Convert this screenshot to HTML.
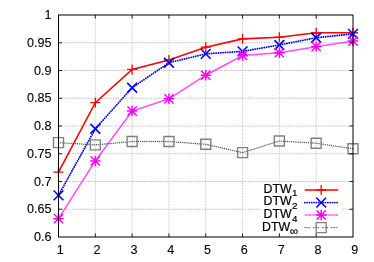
<!DOCTYPE html><html><head><meta charset="utf-8"><style>html,body{margin:0;padding:0;background:#fff}svg text{font-family:"Liberation Sans",sans-serif;fill:#000;stroke:#000;stroke-width:0.1px}</style></head><body><svg width="374" height="262" viewBox="0 0 374 262" style="display:block;will-change:transform">
<path d="M95.31,15.0V237.0M132.12,15.0V237.0M168.94,15.0V237.0M205.75,15.0V237.0M242.56,15.0V237.0M279.38,15.0V237.0M316.19,15.0V237.0" stroke="#c2c2c2" stroke-width="0.8" stroke-dasharray="1.7,1.0" fill="none"/>
<path d="M58.5,209.25H353.0M58.5,181.50H353.0M58.5,153.75H353.0M58.5,126.00H353.0M58.5,98.25H353.0M58.5,70.50H353.0M58.5,42.75H353.0" stroke="#b4b4b4" stroke-width="0.8" stroke-dasharray="1.7,1.0" fill="none"/>
<polyline points="58.50,172.06 95.31,102.69 132.12,69.39 168.94,59.95 205.75,47.19 242.56,38.87 279.38,37.20 316.19,32.76 353.00,32.76" fill="none" stroke="#ff0000" stroke-width="1.6" stroke-opacity="1"/>
<path d="M53.50,172.06H63.50M58.50,167.06V177.06M90.31,102.69H100.31M95.31,97.69V107.69M127.12,69.39H137.12M132.12,64.39V74.39M163.94,59.95H173.94M168.94,54.95V64.95M200.75,47.19H210.75M205.75,42.19V52.19M237.56,38.87H247.56M242.56,33.87V43.87M274.38,37.20H284.38M279.38,32.20V42.20M311.19,32.76H321.19M316.19,27.76V37.76M348.00,32.76H358.00M353.00,27.76V37.76" fill="none" stroke="#ff0000" stroke-width="1.3"/>
<polyline points="58.50,195.37 95.31,128.77 132.12,87.71 168.94,62.73 205.75,53.85 242.56,51.35 279.38,44.97 316.19,37.75 353.00,33.87" fill="none" stroke="#0000ff" stroke-width="1.9" stroke-opacity="1" stroke-dasharray="0.01,2.3" stroke-linecap="round"/>
<path d="M53.60,190.47L63.40,200.27M53.60,200.27L63.40,190.47M90.41,123.87L100.21,133.67M90.41,133.67L100.21,123.87M127.22,82.81L137.03,92.61M127.22,92.61L137.03,82.81M164.04,57.83L173.84,67.63M164.04,67.63L173.84,57.83M200.85,48.95L210.65,58.75M200.85,58.75L210.65,48.95M237.66,46.45L247.46,56.25M237.66,56.25L247.46,46.45M274.48,40.07L284.27,49.87M274.48,49.87L284.27,40.07M311.29,32.85L321.09,42.65M311.29,42.65L321.09,32.85M348.10,28.97L357.90,38.77M348.10,38.77L357.90,28.97" fill="none" stroke="#0000ff" stroke-width="1.6"/>
<polyline points="58.50,218.68 95.31,160.96 132.12,111.02 168.94,98.81 205.75,75.22 242.56,55.51 279.38,52.74 316.19,46.64 353.00,41.09" fill="none" stroke="#ff00ff" stroke-width="1.5" stroke-opacity="0.7"/>
<path d="M53.30,218.68H63.70M58.50,213.48V223.88M53.90,214.08L63.10,223.28M53.90,223.28L63.10,214.08M90.11,160.96H100.51M95.31,155.76V166.16M90.71,156.36L99.91,165.56M90.71,165.56L99.91,156.36M126.92,111.02H137.32M132.12,105.82V116.22M127.53,106.42L136.72,115.62M127.53,115.62L136.72,106.42M163.74,98.81H174.14M168.94,93.61V104.01M164.34,94.21L173.54,103.41M164.34,103.41L173.54,94.21M200.55,75.22H210.95M205.75,70.02V80.42M201.15,70.62L210.35,79.82M201.15,79.82L210.35,70.62M237.36,55.51H247.76M242.56,50.31V60.71M237.96,50.91L247.16,60.11M237.96,60.11L247.16,50.91M274.18,52.74H284.57M279.38,47.54V57.94M274.77,48.14L283.98,57.34M274.77,57.34L283.98,48.14M310.99,46.64H321.39M316.19,41.44V51.84M311.59,42.04L320.79,51.24M311.59,51.24L320.79,42.04M347.80,41.09H358.20M353.00,35.89V46.29M348.40,36.49L357.60,45.69M348.40,45.69L357.60,36.49" fill="none" stroke="#ff00ff" stroke-width="1.45"/>
<polyline points="58.50,142.65 95.31,144.87 132.12,141.54 168.94,141.54 205.75,144.31 242.56,152.64 279.38,140.98 316.19,143.20 353.00,148.75" fill="none" stroke="#505050" stroke-width="1.4" stroke-opacity="1" stroke-dasharray="0.01,2.1" stroke-linecap="round"/>
<path d="M53.50,137.65H63.50V147.65H53.50ZM90.31,139.87H100.31V149.87H90.31ZM127.12,136.54H137.12V146.54H127.12ZM163.94,136.54H173.94V146.54H163.94ZM200.75,139.31H210.75V149.31H200.75ZM237.56,147.64H247.56V157.64H237.56ZM274.38,135.98H284.38V145.98H274.38ZM311.19,138.20H321.19V148.20H311.19ZM348.00,143.75H358.00V153.75H348.00Z" fill="none" stroke="#808080" stroke-width="1.4"/>
<g>
<rect x="260" y="183.5" width="82.5" height="48.5" fill="#fff"/>
<path d="M304.8,190.0H338" stroke="#ff0000" stroke-width="1.6" stroke-opacity="1" fill="none"/>
<path d="M316.20,190.00H326.20M321.20,185.00V195.00" stroke="#ff0000" stroke-width="1.3" fill="none"/>
<text transform="translate(263.5,192.8) scale(1.03,1)" font-size="12" style="stroke-width:0.18px">DTW<tspan dy="3.6" dx="0.4" font-size="9.6">1</tspan></text>
<path d="M304.8,202.6H338" stroke="#0000ff" stroke-width="1.9" stroke-opacity="1" stroke-dasharray="0.01,2.3" stroke-linecap="round" fill="none"/>
<path d="M316.30,197.70L326.10,207.50M316.30,207.50L326.10,197.70" stroke="#0000ff" stroke-width="1.6" fill="none"/>
<text transform="translate(263.5,205.4) scale(1.03,1)" font-size="12" style="stroke-width:0.18px">DTW<tspan dy="3.6" dx="0.4" font-size="9.6">2</tspan></text>
<path d="M304.8,215.0H338" stroke="#ff00ff" stroke-width="1.7" stroke-opacity="0.65" stroke-dasharray="2.6,0.3,0.7,0.3" fill="none"/>
<path d="M316.00,215.00H326.40M321.20,209.80V220.20M316.60,210.40L325.80,219.60M316.60,219.60L325.80,210.40" stroke="#ff00ff" stroke-width="1.45" fill="none"/>
<text transform="translate(263.5,218.1) scale(1.03,1)" font-size="12" style="stroke-width:0.18px">DTW<tspan dy="3.6" dx="0.4" font-size="9.6">4</tspan></text>
<path d="M304.8,227.6H338" stroke="#606060" stroke-width="1.3" stroke-opacity="1" stroke-dasharray="0.01,1.65,0.01,1.65,0.01,1.65,0.01,3.85" stroke-linecap="round" fill="none"/>
<path d="M316.20,222.60H326.20V232.60H316.20Z" stroke="#808080" stroke-width="1.3" fill="none"/>
<text transform="translate(262.0,230.8) scale(1.03,1)" font-size="12" style="stroke-width:0.18px">DTW<tspan dy="3.9" dx="-0.4" font-size="11.5">∞</tspan></text>
<rect x="58.5" y="15.0" width="294.5" height="222.0" fill="none" stroke="#000" stroke-width="1"/>
<path d="M95.31,237.0v-3.6M95.31,15.0v3.6M132.12,237.0v-3.6M132.12,15.0v3.6M168.94,237.0v-3.6M168.94,15.0v3.6M205.75,237.0v-3.6M205.75,15.0v3.6M242.56,237.0v-3.6M242.56,15.0v3.6M279.38,237.0v-3.6M279.38,15.0v3.6M316.19,237.0v-3.6M316.19,15.0v3.6M58.5,209.25h3.6M353.0,209.25h-3.6M58.5,181.50h3.6M353.0,181.50h-3.6M58.5,153.75h3.6M353.0,153.75h-3.6M58.5,126.00h3.6M353.0,126.00h-3.6M58.5,98.25h3.6M353.0,98.25h-3.6M58.5,70.50h3.6M353.0,70.50h-3.6M58.5,42.75h3.6M353.0,42.75h-3.6" stroke="#000" stroke-width="0.85" fill="none"/>
<text transform="translate(60.30,253.6) scale(1.05,1)" font-size="12" text-anchor="middle">1</text>
<text transform="translate(97.11,253.6) scale(1.05,1)" font-size="12" text-anchor="middle">2</text>
<text transform="translate(133.93,253.6) scale(1.05,1)" font-size="12" text-anchor="middle">3</text>
<text transform="translate(170.74,253.6) scale(1.05,1)" font-size="12" text-anchor="middle">4</text>
<text transform="translate(207.55,253.6) scale(1.05,1)" font-size="12" text-anchor="middle">5</text>
<text transform="translate(244.36,253.6) scale(1.05,1)" font-size="12" text-anchor="middle">6</text>
<text transform="translate(281.18,253.6) scale(1.05,1)" font-size="12" text-anchor="middle">7</text>
<text transform="translate(317.99,253.6) scale(1.05,1)" font-size="12" text-anchor="middle">8</text>
<text transform="translate(354.80,253.6) scale(1.05,1)" font-size="12" text-anchor="middle">9</text>
<text transform="translate(51.4,241.20) scale(1.05,1)" font-size="12" text-anchor="end">0.6</text>
<text transform="translate(51.4,213.45) scale(1.05,1)" font-size="12" text-anchor="end">0.65</text>
<text transform="translate(51.4,185.70) scale(1.05,1)" font-size="12" text-anchor="end">0.7</text>
<text transform="translate(51.4,157.95) scale(1.05,1)" font-size="12" text-anchor="end">0.75</text>
<text transform="translate(51.4,130.20) scale(1.05,1)" font-size="12" text-anchor="end">0.8</text>
<text transform="translate(51.4,102.45) scale(1.05,1)" font-size="12" text-anchor="end">0.85</text>
<text transform="translate(51.4,74.70) scale(1.05,1)" font-size="12" text-anchor="end">0.9</text>
<text transform="translate(51.4,46.95) scale(1.05,1)" font-size="12" text-anchor="end">0.95</text>
<text transform="translate(51.4,19.20) scale(1.05,1)" font-size="12" text-anchor="end">1</text>
</g>
</svg></body></html>
